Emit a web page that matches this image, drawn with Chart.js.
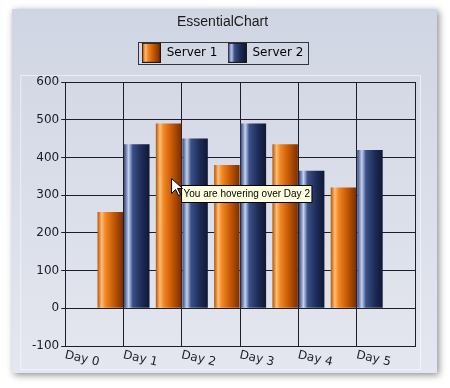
<!DOCTYPE html>
<html>
<head>
<meta charset="utf-8">
<script src="https://cdn.jsdelivr.net/npm/chart.js@4"></script>
<style>
  html, body { margin: 0; padding: 0; background: #ffffff; }
  #wrap { width: 450px; height: 388px; }
</style>
</head>
<body>
<div id="wrap"><canvas id="myChart" width="450" height="388"></canvas></div>
<script>
// chart data
const days = ['Day 0', 'Day 1', 'Day 2', 'Day 3', 'Day 4', 'Day 5', ''];
const server1 = [null, 255, 490, 380, 435, 320, null];
const server2 = [null, 435, 450, 490, 365, 420, null];
const yTicks = [-100, 0, 100, 200, 300, 400, 500, 600];
const hoverText = 'You are hovering over Day 2';

const orangeStops = [[0, '#b85400'], [0.16, '#ffbe78'], [0.3, '#f28a26'], [0.62, '#c85a06'], [1, '#7a3000']];
const blueStops = [[0, '#34477a'], [0.18, '#c4d2f2'], [0.34, '#3a5086'], [0.7, '#1c2a55'], [1, '#0f1935']];

function makeGradient(ctx, x0, x1, stops) {
	const g = ctx.createLinearGradient(x0, 0, x1, 0);
	stops.forEach(s => g.addColorStop(s[0], s[1]));
	return g;
}

function barFill(stops, fallback) {
	return (context) => {
		const el = context.element;
		if (!el || el.x === undefined || !el.width) return fallback;
		return makeGradient(context.chart.ctx, el.x - el.width / 2, el.x + el.width / 2, stops);
	};
}

// little swatch images for the legend
function swatch(stops) {
	const c = document.createElement('canvas');
	c.width = 19; c.height = 20;
	const g = c.getContext('2d');
	g.fillStyle = makeGradient(g, 1, 18, stops);
	g.fillRect(1, 1, 17, 18);
	g.strokeStyle = '#1a1a1a';
	g.lineWidth = 1;
	g.strokeRect(0.5, 0.5, 18, 19);
	return c;
}
const swatches = [swatch(orangeStops), swatch(blueStops)];

Chart.Tooltip.positioners.hoverSpot = function(items) {
	if (!items.length) return false;
	const el = items[0].element;
	return { x: el.x + 13, y: el.y + 62 };
};

const panelPlugin = {
	id: 'panel',
	beforeDraw(chart) {
		const ctx = chart.ctx;
		ctx.save();
		ctx.shadowColor = 'rgba(0,0,0,0.45)';
		ctx.shadowBlur = 7;
		ctx.shadowOffsetX = 2;
		ctx.shadowOffsetY = 2;
		const g = ctx.createLinearGradient(0, 9, 0, 373);
		g.addColorStop(0, '#d0d5e3');
		g.addColorStop(1, '#e4e7ef');
		ctx.fillStyle = g;
		ctx.fillRect(12, 9, 425, 364);
		ctx.restore();
		// faint light frame around the plot
		const a = chart.chartArea;
		ctx.save();
		ctx.strokeStyle = 'rgba(255,255,255,0.55)';
		ctx.lineWidth = 1;
		ctx.strokeRect(a.left - 44.5, a.top - 6.5, a.right - a.left + 50, a.bottom - a.top + 30);
		ctx.restore();
	},
	afterDraw(chart) {
		const ctx = chart.ctx;
		// legend frame
		const boxes = chart.legend.legendHitBoxes;
		if (boxes && boxes.length) {
			const l = Math.min(...boxes.map(b => b.left)) - 4;
			const r = Math.max(...boxes.map(b => b.left + b.width)) + 4;
			const cy = boxes[0].top + boxes[0].height / 2;
			ctx.save();
			ctx.strokeStyle = '#333344';
			ctx.lineWidth = 1;
			ctx.strokeRect(Math.round(l) + 0.5, Math.round(cy - 11) + 0.5, Math.round(r - l), 22);
			ctx.restore();
		}
		// slanted day labels
		const xs = chart.scales.x;
		ctx.save();
		ctx.font = '12px "DejaVu Sans"';
		ctx.fillStyle = '#1e1e28';
		ctx.textAlign = 'left';
		ctx.textBaseline = 'top';
		xs.ticks.forEach((t, i) => {
			const label = xs.getLabelForValue(t.value);
			if (!label) return;
			ctx.save();
			ctx.translate(xs.getPixelForTick(i) + 1, chart.chartArea.bottom + 3);
			ctx.rotate(13 * Math.PI / 180);
			ctx.fillText(label, 0, 0);
			ctx.restore();
		});
		ctx.restore();
		// mouse pointer next to the tooltip
		const tt = chart.tooltip;
		if (tt && tt.opacity > 0) {
			const px = tt.x - 10, py = tt.y - 7;
			ctx.save();
			ctx.translate(px, py);
			ctx.beginPath();
			ctx.moveTo(0, 0); ctx.lineTo(0, 15); ctx.lineTo(4, 11); ctx.lineTo(7, 17);
			ctx.lineTo(9, 16); ctx.lineTo(6, 10); ctx.lineTo(11, 10); ctx.closePath();
			ctx.fillStyle = '#ffffff';
			ctx.fill();
			ctx.strokeStyle = '#000000';
			ctx.lineWidth = 1;
			ctx.stroke();
			ctx.restore();
		}
	}
};

const ctx = document.getElementById('myChart').getContext('2d');
const myChart = new Chart(ctx, {
	type: 'bar',
	data: {
		labels: days,
		datasets: [{
			label: 'Server 1',
			data: server1,
			backgroundColor: barFill(orangeStops, '#e07010'),
			borderWidth: 0
		}, {
			label: 'Server 2',
			data: server2,
			backgroundColor: barFill(blueStops, '#243868'),
			borderWidth: 0
		}]
	},
	options: {
		responsive: false,
		animation: false,
		events: [],
		categoryPercentage: 0.91,
		barPercentage: 0.96,
		layout: { padding: { top: 12, left: 30, right: 35, bottom: 42 } },
		scales: {
			x: {
				offset: false,
				grid: { color: '#1e1e2a', lineWidth: 1, drawTicks: false, offset: false },
				border: { color: '#1e1e2a' },
				ticks: { display: false }
			},
			y: {
				min: -100,
				max: 600,
				afterBuildTicks: (axis) => { axis.ticks = yTicks.map(v => ({ value: v })); },
				grid: { color: '#1e1e2a', lineWidth: 1, tickLength: 4 },
				border: { color: '#1e1e2a' },
				ticks: {
					color: '#1a1a24',
					padding: 2,
					font: { family: 'DejaVu Sans', size: 12 }
				}
			}
		},
		plugins: {
			title: {
				display: true,
				text: 'EssentialChart',
				color: '#1a1a1a',
				font: { family: 'Liberation Sans', size: 14, weight: 'normal' },
				padding: { top: 2, bottom: 6 }
			},
			// empty subtitle used as a spacer between legend and plot
			subtitle: {
				display: true,
				text: ' ',
				weight: 500,
				font: { size: 1 },
				padding: { top: 6, bottom: 6 }
			},
			legend: {
				display: true,
				weight: 1800,
				labels: {
					color: '#1a1a1a',
					font: { family: 'DejaVu Sans', size: 12 },
					usePointStyle: true,
					pointStyleWidth: 19,
					padding: 10,
					generateLabels: (chart) => chart.data.datasets.map((ds, i) => ({
						text: ds.label,
						pointStyle: swatches[i],
						fillStyle: 'transparent',
						strokeStyle: 'transparent',
						lineWidth: 0,
						datasetIndex: i,
						hidden: false
					}))
				}
			},
			tooltip: {
				enabled: true,
				position: 'hoverSpot',
				xAlign: 'left',
				yAlign: 'top',
				caretSize: 0,
				caretPadding: 0,
				cornerRadius: 0,
				displayColors: false,
				backgroundColor: '#ffffe1',
				borderColor: '#000000',
				borderWidth: 1,
				bodyColor: '#000000',
				bodyFont: { family: 'Liberation Sans', size: 10 },
				padding: { left: 2, right: 2, top: 3, bottom: 2 },
				callbacks: {
					title: () => '',
					label: () => hoverText
				}
			}
		}
	},
	plugins: [panelPlugin]
});

// second pass so the bar gradients know their element positions, and show the hover tip
myChart.tooltip.setActiveElements([{ datasetIndex: 0, index: 2 }], { x: 0, y: 0 });
myChart.update();
</script>
</body>
</html>
